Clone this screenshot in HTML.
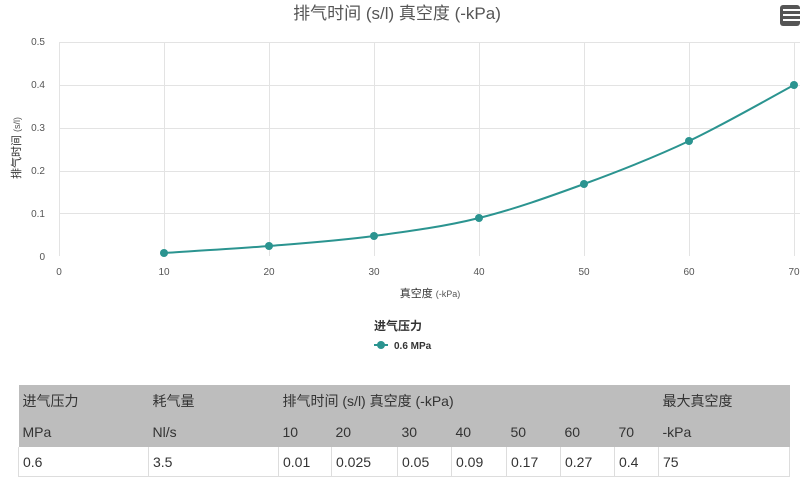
<!DOCTYPE html>
<html><head><meta charset="utf-8"><style>
body{margin:0;width:800px;height:482px;background:#fff;overflow:hidden;font-family:"Liberation Sans","Noto Sans CJK SC",sans-serif;position:relative}
svg{position:absolute;left:0;top:0}
table{position:absolute;left:18px;top:385px;width:772px;border-collapse:collapse;font-size:14px;color:#333}
td{padding:0 4px;vertical-align:middle}
.h td{background:#bdbdbd;height:31px}
.d td{background:#fff;height:29px;border-left:1px solid #ddd;border-bottom:1px solid #ddd}
</style></head><body>
<svg width="800" height="482" font-family="Liberation Sans, Noto Sans CJK SC, sans-serif">
<text x="397" y="19" text-anchor="middle" font-size="17" fill="#555">排气时间 (s/l) 真空度 (-kPa)</text>
<rect x="780" y="5" width="20" height="21" rx="3" fill="#555"/>
<g stroke="#fff" stroke-width="2"><line x1="783" y1="10" x2="800" y2="10"/><line x1="783" y1="15" x2="800" y2="15"/><line x1="783" y1="20" x2="800" y2="20"/></g>
<g stroke="#e3e3e3" stroke-width="1">
<line x1="59" y1="42.5" x2="800" y2="42.5"/><line x1="59" y1="85.5" x2="800" y2="85.5"/><line x1="59" y1="128.5" x2="800" y2="128.5"/><line x1="59" y1="171.5" x2="800" y2="171.5"/><line x1="59" y1="213.5" x2="800" y2="213.5"/>
<line x1="59.5" y1="42" x2="59.5" y2="256"/><line x1="164.5" y1="42" x2="164.5" y2="256"/><line x1="269.5" y1="42" x2="269.5" y2="256"/><line x1="374.5" y1="42" x2="374.5" y2="256"/><line x1="479.5" y1="42" x2="479.5" y2="256"/><line x1="584.5" y1="42" x2="584.5" y2="256"/><line x1="689.5" y1="42" x2="689.5" y2="256"/><line x1="794.5" y1="42" x2="794.5" y2="256"/>
</g>
<g font-size="10" fill="#555" text-anchor="end">
<text x="45" y="45">0.5</text><text x="45" y="88">0.4</text><text x="45" y="131">0.3</text><text x="45" y="174">0.2</text><text x="45" y="217">0.1</text><text x="45" y="260">0</text>
</g>
<g font-size="10" fill="#555" text-anchor="middle">
<text x="59" y="275">0</text><text x="164" y="275">10</text><text x="269" y="275">20</text><text x="374" y="275">30</text><text x="479" y="275">40</text><text x="584" y="275">50</text><text x="689" y="275">60</text><text x="794" y="275">70</text>
</g>
<text x="430" y="297" text-anchor="middle" font-size="11" fill="#333">真空度 <tspan font-size="9" fill="#555">(-kPa)</tspan></text>
<text transform="translate(20,148) rotate(-90)" text-anchor="middle" font-size="11" fill="#333">排气时间 <tspan font-size="9" fill="#555">(s/l)</tspan></text>
<path d="M164,253 C181.5,251.8 234,248.8 269,246 C304,243.2 339,240.7 374,236 C409,231.3 444,226.7 479,218 C514,209.3 549,196.8 584,184 C619,171.2 654,157.5 689,141 C724,124.5 776.5,94.3 794,85" fill="none" stroke="#2b9490" stroke-width="2"/>
<g fill="#2b9490"><circle cx="164" cy="253" r="4"/><circle cx="269" cy="246" r="4"/><circle cx="374" cy="236" r="4"/><circle cx="479" cy="218" r="4"/><circle cx="584" cy="184" r="4"/><circle cx="689" cy="141" r="4"/><circle cx="794" cy="85" r="4"/></g>
<text x="374" y="330" font-size="12" font-weight="bold" fill="#333">进气压力</text>
<line x1="374" y1="345" x2="388" y2="345" stroke="#2b9490" stroke-width="2"/><circle cx="381" cy="345" r="4" fill="#2b9490"/>
<text x="394" y="349" font-size="10" font-weight="bold" fill="#333">0.6 MPa</text>
</svg>
<table>
<colgroup><col style="width:130px"><col style="width:130px"><col style="width:53px"><col style="width:66px"><col style="width:54px"><col style="width:55px"><col style="width:54px"><col style="width:54px"><col style="width:44px"><col></colgroup>
<tr class="h"><td>进气压力</td><td>耗气量</td><td colspan="7">排气时间 (s/l) 真空度 (-kPa)</td><td>最大真空度</td></tr>
<tr class="h"><td>MPa</td><td>Nl/s</td><td>10</td><td>20</td><td>30</td><td>40</td><td>50</td><td>60</td><td>70</td><td>-kPa</td></tr>
<tr class="d"><td>0.6</td><td>3.5</td><td>0.01</td><td>0.025</td><td>0.05</td><td>0.09</td><td>0.17</td><td>0.27</td><td>0.4</td><td style="border-right:1px solid #ddd">75</td></tr>
</table>
</body></html>
